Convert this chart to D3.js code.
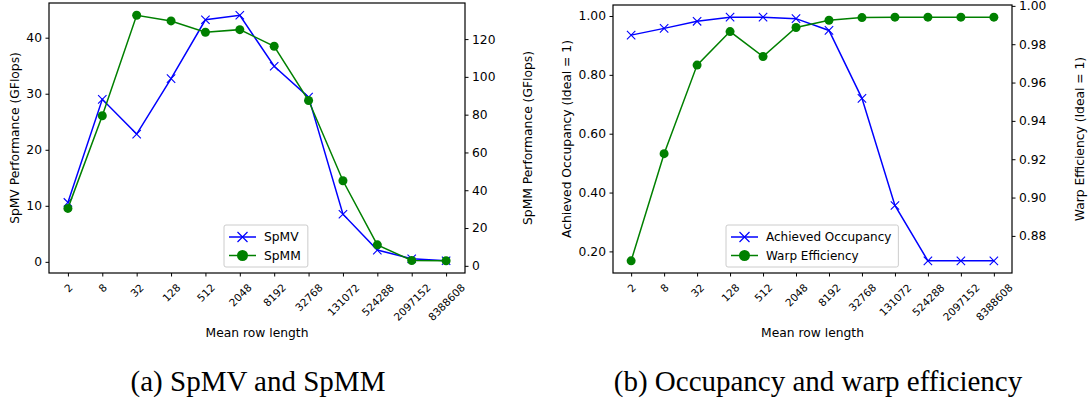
<!DOCTYPE html>
<html>
<head>
<meta charset="utf-8">
<script src="https://cdn.jsdelivr.net/npm/d3@7"></script>
<style>
  body { margin: 0; background: #fff; }
  svg { display: block; }
  text { font-family: "DejaVu Sans", sans-serif; fill: #000; }
  .caption { font-family: "Liberation Serif", "Times New Roman", serif; }
</style>
</head>
<body>
<svg id="chart" width="1090" height="402"></svg>
<script>
const rowLengths = ["2", "8", "32", "128", "512", "2048", "8192", "32768", "131072", "524288", "2097152", "8388608"];

const spmv = [10.6, 29.0, 22.8, 32.7, 43.2, 44.0, 34.9, 29.4, 8.5, 2.1, 0.55, 0.2];
const spmm = [30.4, 79.4, 132.6, 129.6, 123.6, 125.0, 116.2, 87.5, 45.0, 11.1, 2.8, 2.7];

const occupancy = [0.935, 0.958, 0.982, 0.996, 0.996, 0.991, 0.951, 0.720, 0.356, 0.168, 0.168, 0.168];
const warpEff = [0.867, 0.9229, 0.9691, 0.9866, 0.9736, 0.9887, 0.9925, 0.9939, 0.9941, 0.9941, 0.9941, 0.9941];

const spmvTicks = [0, 10, 20, 30, 40];
const spmmTicks = [0, 20, 40, 60, 80, 100, 120];
const occTicks = [0.2, 0.4, 0.6, 0.8, 1.0];
const warpTicks = [0.88, 0.90, 0.92, 0.94, 0.96, 0.98, 1.00];

const svg = d3.select("#chart");

// matplotlib-like 5% margins
function padDomain(vals) {
  const lo = d3.min(vals), hi = d3.max(vals), m = (hi - lo) * 0.05;
  return [lo - m, hi + m];
}

function drawPanel(p) {
  const g = svg.append("g");
  const x = d3.scalePoint().domain(rowLengths).range([p.left, p.right]).padding(0.55);
  const yL = d3.scaleLinear().domain(padDomain(p.leftVals)).range([p.bottom, p.top]);
  const yR = d3.scaleLinear().domain(padDomain(p.rightVals)).range([p.bottom, p.top]);

  // axes
  const xg = g.append("g").attr("transform", `translate(0,${p.bottom})`)
    .call(d3.axisBottom(x).tickSize(3.5).tickPadding(3));
  xg.selectAll("text")
    .style("font-size", p.xFont + "px")
    .attr("text-anchor", "middle")
    .attr("y", null)
    .each(function() {
      // rotated 45deg, centred under tick, bbox top just below tick
      const L = this.getComputedTextLength();
      const H = p.xFont * 0.75;
      const c = 10 + (L + H) * 0.3536;
      d3.select(this).attr("transform", `translate(0,${c}) rotate(-45)`).attr("dy", "0.35em");
    });

  const lg = g.append("g").attr("transform", `translate(${p.left},0)`)
    .call(d3.axisLeft(yL).tickValues(p.leftTicks).tickFormat(d3.format(p.leftFmt)).tickSize(3.5).tickPadding(3.5));
  lg.selectAll("text").style("font-size", p.yFont + "px");

  const rg = g.append("g").attr("transform", `translate(${p.right},0)`)
    .call(d3.axisRight(yR).tickValues(p.rightTicks).tickFormat(d3.format(p.rightFmt)).tickSize(3.5).tickPadding(3.5));
  rg.selectAll("text").style("font-size", p.yFont + "px");

  g.selectAll(".domain").remove();
  g.selectAll(".tick line").attr("stroke", "#000").attr("stroke-width", 1);

  // series
  const line = (ys, vals) => d3.line().x((d, i) => x(rowLengths[i])).y(d => ys(d))(vals);

  g.append("path").attr("d", line(yL, p.leftVals))
    .attr("fill", "none").attr("stroke", "#0000ff").attr("stroke-width", 1.5);
  g.append("g").selectAll("path").data(p.leftVals).join("path")
    .attr("d", (d, i) => {
      const cx = x(rowLengths[i]), cy = yL(d), r = 4.2;
      return `M${cx - r},${cy - r}L${cx + r},${cy + r}M${cx - r},${cy + r}L${cx + r},${cy - r}`;
    })
    .attr("stroke", "#0000ff").attr("stroke-width", 1.1);

  g.append("path").attr("d", line(yR, p.rightVals))
    .attr("fill", "none").attr("stroke", "#008000").attr("stroke-width", 1.5);
  g.append("g").selectAll("circle").data(p.rightVals).join("circle")
    .attr("cx", (d, i) => x(rowLengths[i])).attr("cy", d => yR(d)).attr("r", 4.5)
    .attr("fill", "#008000");

  // frame
  g.append("rect").attr("x", p.left).attr("y", p.top)
    .attr("width", p.right - p.left).attr("height", p.bottom - p.top)
    .attr("fill", "none").attr("stroke", "#000").attr("stroke-width", 1.2);

  // axis titles
  g.append("text").text("Mean row length")
    .attr("x", (p.left + p.right) / 2).attr("y", p.xTitleY)
    .attr("text-anchor", "middle").style("font-size", p.titleFont + "px");
  g.append("text").text(p.leftTitle)
    .attr("transform", `translate(${p.leftTitleX},${(p.top + p.bottom) / 2}) rotate(-90)`)
    .attr("text-anchor", "middle").attr("dy", "0.35em").style("font-size", p.titleFont + "px");
  g.append("text").text(p.rightTitle)
    .attr("transform", `translate(${p.rightTitleX},${(p.top + p.bottom) / 2}) rotate(-90)`)
    .attr("text-anchor", "middle").attr("dy", "0.35em").style("font-size", p.titleFont + "px");

  // legend
  const leg = g.append("g").attr("transform", `translate(${p.legX},${p.legY})`);
  const box = leg.append("rect").attr("height", 42).attr("rx", 2)
    .attr("fill", "#fff").attr("fill-opacity", 0.8).attr("stroke", "#ccc");
  let maxW = 0;
  [[p.leftName, "#0000ff", "x"], [p.rightName, "#008000", "o"]].forEach((it, k) => {
    const cy = 12 + k * 18.5;
    leg.append("line").attr("x1", 5).attr("x2", 32).attr("y1", cy).attr("y2", cy)
      .attr("stroke", it[1]).attr("stroke-width", 1.5);
    if (it[2] === "x") {
      leg.append("path").attr("d", `M${18.5 - 5},${cy - 5}L${18.5 + 5},${cy + 5}M${18.5 - 5},${cy + 5}L${18.5 + 5},${cy - 5}`)
        .attr("stroke", it[1]).attr("stroke-width", 1.2);
    } else {
      leg.append("circle").attr("cx", 18.5).attr("cy", cy).attr("r", 5.5).attr("fill", it[1]);
    }
    const t = leg.append("text").text(it[0]).attr("x", 40).attr("y", cy).attr("dy", "0.35em")
      .style("font-size", p.legFont + "px");
    maxW = Math.max(maxW, t.node().getComputedTextLength());
  });
  box.attr("width", 40 + maxW + 7);

  // caption
  svg.append("text").attr("class", "caption").text(p.caption)
    .attr("x", p.capX).attr("y", 391).attr("text-anchor", "middle").style("font-size", "29px");
}

drawPanel({
  left: 49, right: 465, top: 3, bottom: 273,
  leftVals: spmv, rightVals: spmm,
  leftTicks: spmvTicks, rightTicks: spmmTicks, leftFmt: "d", rightFmt: "d",
  leftTitle: "SpMV Performance (GFlops)", rightTitle: "SpMM Performance (GFlops)",
  leftTitleX: 15, rightTitleX: 528, xTitleY: 337,
  leftName: "SpMV", rightName: "SpMM",
  legX: 224, legY: 225,
  xFont: 10.5, yFont: 12.3, titleFont: 12.3, legFont: 12.3,
  caption: "(a) SpMV and SpMM", capX: 258
});

drawPanel({
  left: 613, right: 1012, top: 5, bottom: 273,
  leftVals: occupancy, rightVals: warpEff,
  leftTicks: occTicks, rightTicks: warpTicks, leftFmt: ".2f", rightFmt: ".2f",
  leftTitle: "Achieved Occupancy (Ideal = 1)", rightTitle: "Warp Efficiency (Ideal = 1)",
  leftTitleX: 567, rightTitleX: 1080, xTitleY: 337,
  leftName: "Achieved Occupancy", rightName: "Warp Efficiency",
  legX: 726, legY: 225,
  xFont: 10.5, yFont: 12.3, titleFont: 12.3, legFont: 12,
  caption: "(b) Occupancy and warp efficiency", capX: 818
});
</script>
</body>
</html>
